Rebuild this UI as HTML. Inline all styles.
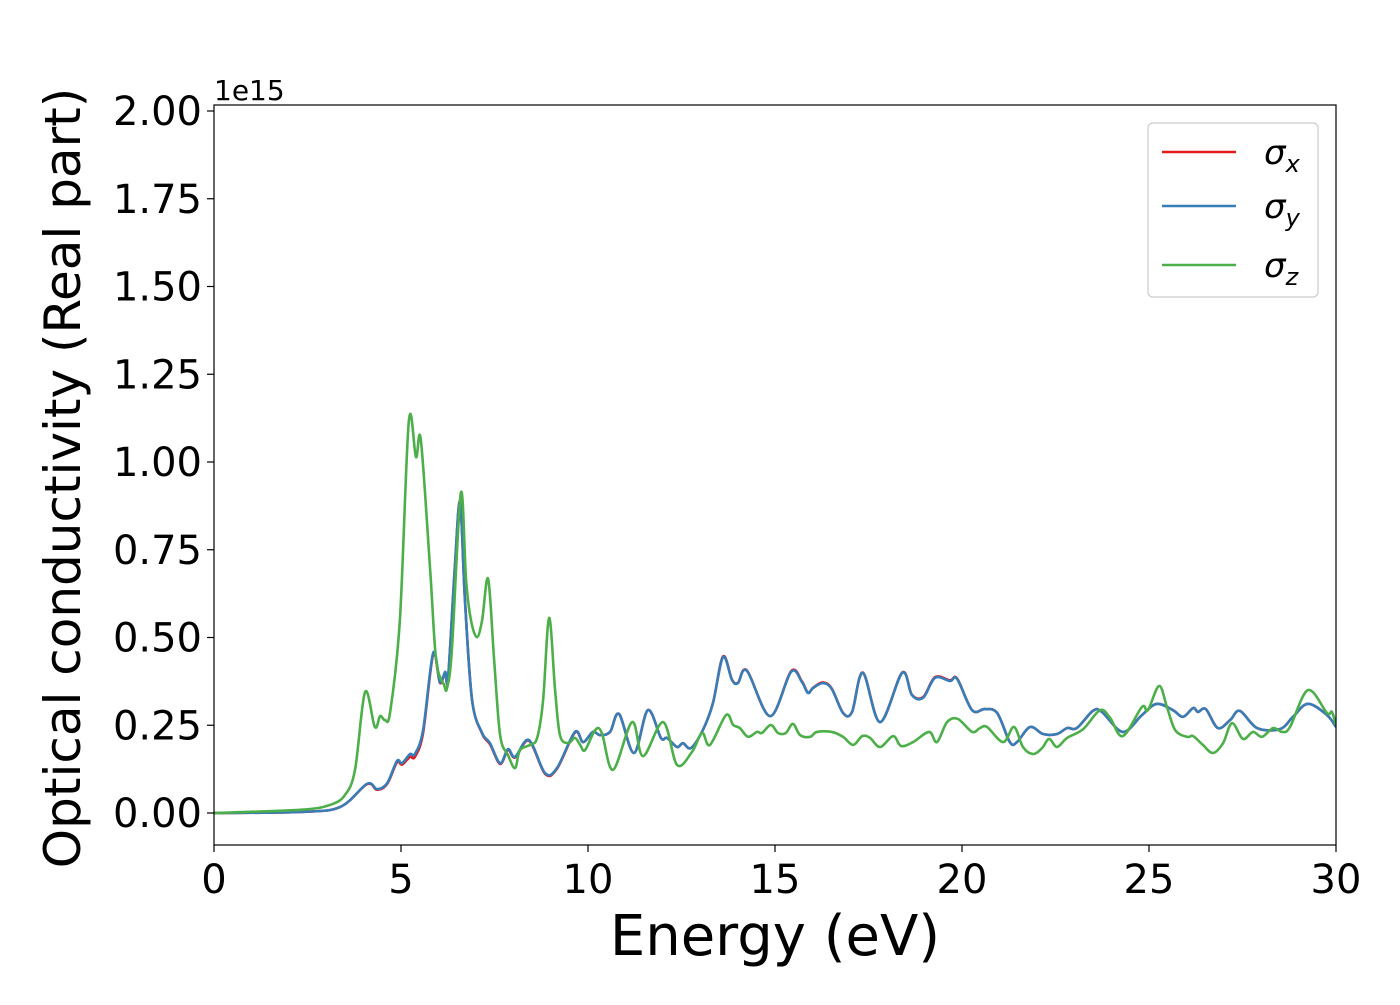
<!DOCTYPE html>
<html><head><meta charset="utf-8"><style>
body{margin:0;background:#fff;}
svg text{font-family:"DejaVu Sans","Liberation Sans",sans-serif;}
</style></head><body>
<svg id="chart" width="1400" height="1000" viewBox="0 0 1400 1000" xmlns="http://www.w3.org/2000/svg">
<rect width="1400" height="1000" fill="#fff"/>
<g id="grid"></g>
<g id="series"></g>
<rect x="214" y="105" width="1122" height="740" fill="none" stroke="#000" stroke-width="1.2"/>
<g id="xticks"></g><g id="yticks"></g>
<text x="214" y="100" font-size="28">1e15</text>
<text x="775" y="955" font-size="56" text-anchor="middle">Energy (eV)</text>
<text transform="translate(80,478) rotate(-90)" font-size="50" text-anchor="middle">Optical conductivity (Real part)</text>
<g>
<rect x="1148" y="123" width="170" height="174" rx="5" fill="#fff" stroke="#ccc" stroke-width="1.2"/>
<g><line x1="1162" y1="152" x2="1236" y2="152" stroke="#e41a1c" stroke-width="2.5"/><text x="1264" y="164" font-size="34" font-style="italic">σ<tspan font-size="24" dy="8">x</tspan></text></g>
<g><line x1="1162" y1="206" x2="1236" y2="206" stroke="#377eb8" stroke-width="2.5"/><text x="1264" y="218" font-size="34" font-style="italic">σ<tspan font-size="24" dy="8">y</tspan></text></g>
<g><line x1="1162" y1="265" x2="1236" y2="265" stroke="#4daf4a" stroke-width="2.5"/><text x="1264" y="277" font-size="34" font-style="italic">σ<tspan font-size="24" dy="8">z</tspan></text></g>
</g>
</svg>
<script>
const xTickLabels=["0","5","10","15","20","25","30"];
const xTickValues=[0,5,10,15,20,25,30];
const yTickLabels=["0.00","0.25","0.50","0.75","1.00","1.25","1.50","1.75","2.00"];
const yTickValues=[0,0.25,0.5,0.75,1,1.25,1.5,1.75,2];
const energyZ=[0,2.30,3.10,3.50,3.77,4.04,4.30,4.44,4.57,4.71,4.97,5.21,5.40,5.53,5.78,5.94,6.15,6.23,6.36,6.60,6.74,6.87,7.03,7.17,7.33,7.49,7.65,7.86,8.05,8.18,8.45,8.64,8.80,8.96,9.12,9.25,9.47,9.65,9.79,9.92,10.19,10.37,10.67,11.18,11.47,12.01,12.38,12.78,13.05,13.26,13.69,13.88,14.06,14.28,14.52,14.65,14.89,15.08,15.29,15.48,15.67,15.94,16.12,16.52,16.82,17.09,17.33,17.54,17.81,18.16,18.37,18.69,19.12,19.33,19.60,19.89,20.27,20.48,20.67,21.10,21.39,21.63,21.90,22.14,22.33,22.54,22.81,23.24,23.69,23.96,24.30,24.81,24.97,25.27,25.48,25.70,26.02,26.18,26.44,26.71,26.98,27.22,27.51,27.78,28.02,28.32,28.56,28.77,29.25,29.76,29.89,30.0];
const sigmaZ=[0,0.009,0.023,0.051,0.123,0.345,0.245,0.276,0.265,0.288,0.55,1.117,1.014,1.063,0.692,0.436,0.365,0.356,0.464,0.912,0.664,0.55,0.501,0.55,0.667,0.436,0.222,0.165,0.128,0.179,0.194,0.214,0.322,0.556,0.35,0.222,0.199,0.214,0.194,0.179,0.236,0.228,0.123,0.259,0.162,0.259,0.137,0.174,0.228,0.194,0.279,0.251,0.242,0.217,0.231,0.228,0.251,0.228,0.228,0.254,0.222,0.217,0.231,0.231,0.217,0.194,0.219,0.214,0.188,0.219,0.191,0.202,0.231,0.202,0.259,0.268,0.231,0.242,0.245,0.202,0.245,0.188,0.168,0.185,0.211,0.188,0.214,0.239,0.293,0.271,0.219,0.302,0.293,0.362,0.302,0.236,0.217,0.219,0.194,0.171,0.199,0.256,0.211,0.231,0.217,0.242,0.231,0.245,0.350,0.285,0.288,0.251];
const energyXY=[0,2.30,3.37,4.09,4.36,4.63,4.89,5.03,5.24,5.37,5.59,5.86,6.04,6.18,6.26,6.44,6.58,6.71,6.90,7.17,7.38,7.65,7.86,8.05,8.42,8.85,9.17,9.65,9.87,10.13,10.32,10.59,10.83,11.23,11.60,11.95,12.11,12.38,12.54,12.75,13.07,13.34,13.61,13.85,14.01,14.25,14.87,15.43,15.72,15.88,16.02,16.28,16.52,16.82,17.06,17.35,17.81,18.40,18.66,18.96,19.28,19.68,19.87,20.27,20.61,20.94,21.28,21.47,21.82,22.17,22.54,22.81,23.07,23.50,23.74,24.30,24.81,25.21,25.64,25.91,26.18,26.31,26.52,26.84,27.17,27.43,27.89,28.50,28.85,29.25,29.76,30.0];
const sigmaY=[0,0.003,0.017,0.083,0.068,0.085,0.148,0.142,0.168,0.168,0.236,0.456,0.373,0.402,0.387,0.701,0.886,0.607,0.322,0.228,0.199,0.142,0.182,0.16,0.208,0.114,0.128,0.231,0.202,0.231,0.222,0.231,0.282,0.171,0.293,0.214,0.214,0.188,0.199,0.185,0.236,0.313,0.444,0.379,0.370,0.405,0.276,0.402,0.373,0.342,0.356,0.370,0.353,0.285,0.288,0.399,0.259,0.399,0.336,0.328,0.385,0.376,0.382,0.293,0.296,0.285,0.202,0.202,0.245,0.225,0.225,0.242,0.242,0.291,0.288,0.231,0.279,0.311,0.293,0.274,0.299,0.288,0.296,0.242,0.265,0.291,0.242,0.239,0.274,0.311,0.279,0.245];
const sigmaX=[0,0.003,0.017,0.082,0.066,0.083,0.144,0.138,0.160,0.160,0.228,0.452,0.371,0.400,0.385,0.700,0.886,0.607,0.322,0.226,0.196,0.140,0.180,0.158,0.206,0.112,0.126,0.229,0.202,0.231,0.222,0.231,0.282,0.171,0.293,0.214,0.214,0.188,0.199,0.185,0.236,0.313,0.446,0.380,0.371,0.406,0.276,0.404,0.375,0.343,0.357,0.372,0.354,0.285,0.288,0.400,0.259,0.400,0.337,0.330,0.387,0.378,0.383,0.293,0.296,0.285,0.202,0.202,0.245,0.225,0.225,0.242,0.242,0.291,0.288,0.231,0.279,0.311,0.293,0.274,0.299,0.288,0.296,0.242,0.265,0.291,0.242,0.239,0.274,0.311,0.279,0.245];

const NS="http://www.w3.org/2000/svg";
function xScale(e){return 214+(e-0)*(1122/30);}
function yScale(v){return 813-v*351;}
function mk(tag,attrs,parent){const el=document.createElementNS(NS,tag);for(const k in attrs)el.setAttribute(k,attrs[k]);parent.appendChild(el);return el;}
function pathFor(xs,ys){
  const p=xs.map((e,i)=>[xScale(e),yScale(ys[i])]);
  let d="M"+p[0][0].toFixed(2)+","+p[0][1].toFixed(2);
  for(let i=0;i<p.length-1;i++){
    const p0=p[i-1]||p[i],p1=p[i],p2=p[i+1],p3=p[i+2]||p2;
    const c1x=p1[0]+(p2[0]-p0[0])/6,c1y=p1[1]+(p2[1]-p0[1])/6;
    const c2x=p2[0]-(p3[0]-p1[0])/6,c2y=p2[1]-(p3[1]-p1[1])/6;
    d+=" C"+c1x.toFixed(2)+","+c1y.toFixed(2)+" "+c2x.toFixed(2)+","+c2y.toFixed(2)+" "+p2[0].toFixed(2)+","+p2[1].toFixed(2);
  }
  return d;
}
const sg=document.getElementById("series");
const clip=mk("clipPath",{id:"clp"},sg);mk("rect",{x:214,y:105,width:1122,height:740},clip);
const lr=mk("path",{d:pathFor(energyXY,sigmaX),fill:"none",stroke:"#e41a1c","stroke-width":2.6,"clip-path":"url(#clp)"},sg);


const lb=mk("path",{d:pathFor(energyXY,sigmaY),fill:"none",stroke:"#377eb8","stroke-width":2.6,"clip-path":"url(#clp)"},sg);


const lg=mk("path",{d:pathFor(energyZ,sigmaZ),fill:"none",stroke:"#4daf4a","stroke-width":2.6,"clip-path":"url(#clp)"},sg);


const xt=document.getElementById("xticks");
xTickValues.forEach((v,i)=>{
  const x=xScale(v);
  const t=mk("line",{x1:x,y1:845,x2:x,y2:852,stroke:"#000","stroke-width":1.2},xt);
  
  
  const l=mk("text",{x:x,y:893,"font-size":40,"text-anchor":"middle"},xt);
  l.textContent=xTickLabels[i];
  
  
});
const yt=document.getElementById("yticks");
yTickValues.forEach((v,i)=>{
  const y=yScale(v);
  const t=mk("line",{x1:207,y1:y,x2:214,y2:y,stroke:"#000","stroke-width":1.2},yt);
  
  
  const l=mk("text",{x:202,y:y+14,"font-size":40,"text-anchor":"end"},yt);
  l.textContent=yTickLabels[i];
  
  
});
</script>
</body></html>
